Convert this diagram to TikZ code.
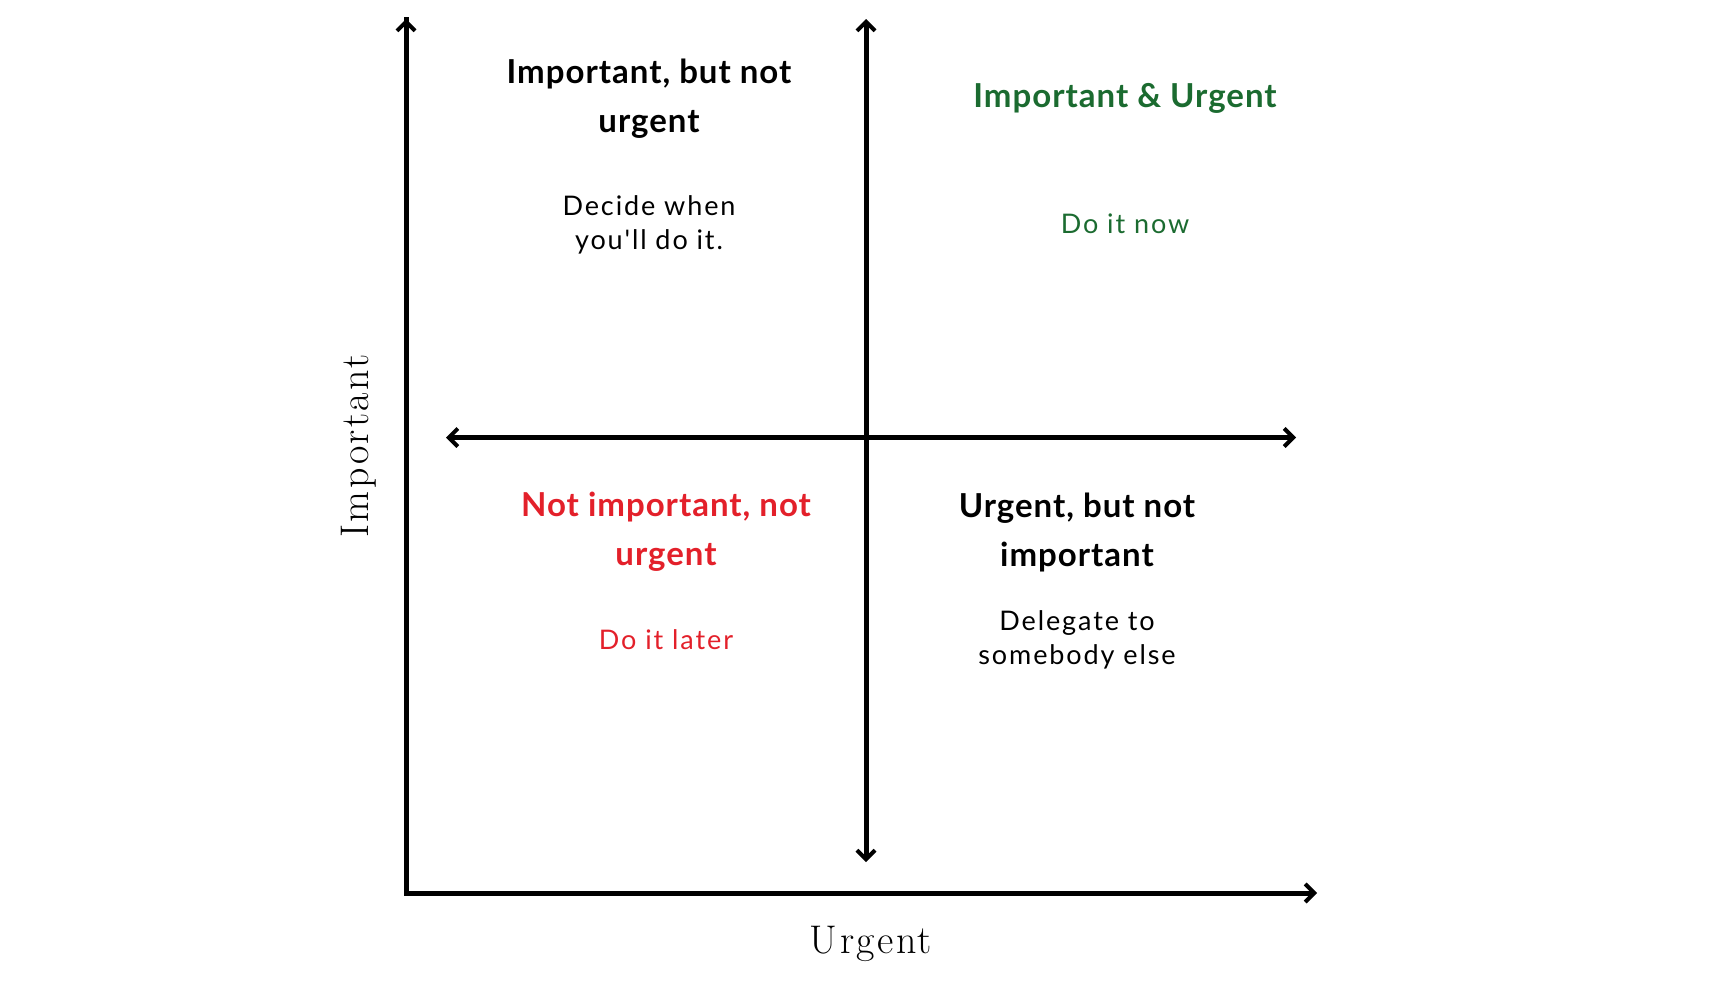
\documentclass[tikz,border=0pt]{standalone}
\usepackage{fontspec}
\setmainfont{Lato}
\newfontfamily\titlefont{Lato}[LetterSpace=3]
\newfontfamily\bodyfont{Lato}[LetterSpace=7]
\newfontfamily\axisfont{Latin Modern Roman}[LetterSpace=6]
\usetikzlibrary{arrows.meta}

\definecolor{dogreen}{HTML}{1B6B30}
\definecolor{dored}{HTML}{E3202A}

\begin{document}
\begin{tikzpicture}[
    x=1pt, y=-1pt,
    axis/.style={line width=5pt, {Straight Barb[length=9pt, width=18pt, line width=4pt]}-{Straight Barb[length=9pt, width=18pt, line width=4pt]}},
    oneway/.style={line width=5pt, -{Straight Barb[length=9pt, width=18pt, line width=4pt]}},
    title/.style={align=center, font=\titlefont\fontsize{33}{49}\selectfont\bfseries},
    body/.style={align=center, font=\bodyfont\fontsize{27}{34}\selectfont},
    label/.style={font=\axisfont\fontsize{40}{44}\selectfont}
]
\useasboundingbox (0,0) rectangle (1728,991);

% Axes
\coordinate (origin) at (406,893);
\coordinate (ytop) at (406,19);
\coordinate (xend) at (1317,893);
\coordinate (vtop) at (866,19);
\coordinate (vbot) at (866,862);
\coordinate (hleft) at (446,437.5);
\coordinate (hright) at (1296,437.5);

\draw[line width=5pt, line cap=rect] (origin) -- (ytop);
\draw[oneway] (origin) -- (ytop);
\draw[oneway] (origin) -- (xend);
\draw[axis] (vbot) -- (vtop);
\draw[axis] (hleft) -- (hright);

% Axis labels
\node[label, rotate=90] (important) at (359,446) {Important};
\node[label] (urgent) at (871,944) {Urgent};

% Quadrants
\node[title] (plan) at (649,99) {Important, but not\\urgent};
\node[body] (plannote) at (649,225) {Decide when\\you'll do it.};

\node[title, text=dogreen] (now) at (1125,98) {Important \& Urgent};
\node[body, text=dogreen] (nownote) at (1125,224) {Do it now};

\node[title, text=dored] (drop) at (666,532) {Not important, not\\urgent};
\node[body, text=dored] (dropnote) at (666,640) {Do it later};

\node[title] (delegate) at (1077,532) {Urgent, but not\\important};
\node[body] (delegatenote) at (1077,640) {Delegate to\\somebody else};

\end{tikzpicture}
\end{document}
